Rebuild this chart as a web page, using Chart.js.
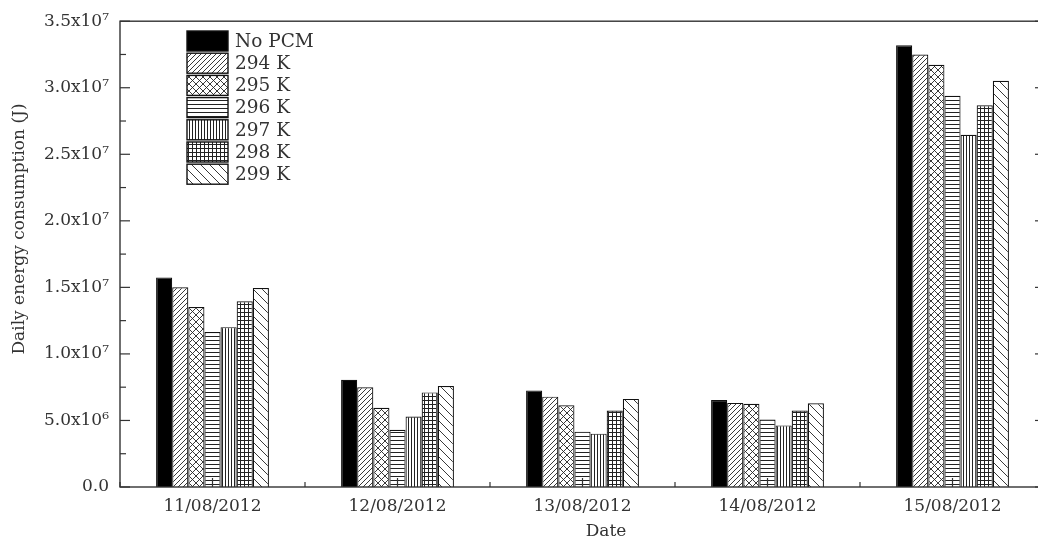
<!DOCTYPE html>
<html><head><meta charset="utf-8">
<script src="https://cdn.jsdelivr.net/npm/chart.js@4/dist/chart.umd.min.js"></script>
<style>
html,body{margin:0;padding:0;overflow:hidden;background:#fff}
#wrap{width:1060px;height:545px}
</style>
</head><body><div id="wrap"><canvas id="c" width="1060" height="545"></canvas></div>
<script>
const categories = ['11/08/2012','12/08/2012','13/08/2012','14/08/2012','15/08/2012'];
const seriesNames = ['No PCM','294 K','295 K','296 K','297 K','298 K','299 K'];
const noPCM = [15750000, 8060000, 7260000, 6540000, 33190000];
const k294  = [15000000, 7490000, 6790000, 6320000, 32490000];
const k295  = [13530000, 5950000, 6140000, 6250000, 31720000];
const k296  = [11640000, 4300000, 4160000, 5070000, 29400000];
const k297  = [12010000, 5300000, 4010000, 4630000, 26470000];
const k298  = [13960000, 7110000, 5750000, 5750000, 28690000];
const k299  = [14950000, 7590000, 6620000, 6290000, 30520000];
const yTickLabels = ['0.0','5.0x10\u2076','1.0x10\u2077','1.5x10\u2077','2.0x10\u2077','2.5x10\u2077','3.0x10\u2077','3.5x10\u2077'];
const xTitle = 'Date';
const yTitle = 'Daily energy consumption (J)';

const seriesValues = [noPCM,k294,k295,k296,k297,k298,k299];
const patternKinds = ['solid','diag','cross','horiz','vert','grid','back'];
const FONT = '"DejaVu Serif", serif';
const TXT = '#333';

function makePattern(kind){
  if (kind === 'solid') return '#000';
  const sizes = {diag:5, back:9, cross:7, horiz:4, vert:3, grid:4};
  const s = sizes[kind];
  const c = document.createElement('canvas');
  c.width = s; c.height = s;
  const g = c.getContext('2d');
  g.fillStyle = '#fff'; g.fillRect(0,0,s,s);
  g.strokeStyle = '#222'; g.fillStyle = '#222'; g.lineWidth = 0.9;
  const fwd = () => { g.beginPath(); g.moveTo(0,s); g.lineTo(s,0); g.moveTo(-1,1); g.lineTo(1,-1); g.moveTo(s-1,s+1); g.lineTo(s+1,s-1); g.stroke(); };
  const bwd = () => { g.beginPath(); g.moveTo(0,0); g.lineTo(s,s); g.moveTo(-1,s-1); g.lineTo(1,s+1); g.moveTo(s-1,-1); g.lineTo(s+1,1); g.stroke(); };
  if (kind === 'diag') fwd();
  if (kind === 'back') bwd();
  if (kind === 'cross') { fwd(); bwd(); }
  if (kind === 'horiz') g.fillRect(0,0,s,1);
  if (kind === 'vert') g.fillRect(0,0,1,s);
  if (kind === 'grid') { g.fillRect(0,0,s,1); g.fillRect(0,0,1,s); }
  return g.createPattern(c, 'repeat');
}
const fills = patternKinds.map(makePattern);

const decor = {
  id: 'decor',
  afterDraw(chart){
    const {ctx, chartArea: a, scales: {x, y}} = chart;
    ctx.save();
    const line = (x1,y1,x2,y2) => { ctx.beginPath(); ctx.moveTo(x1,y1); ctx.lineTo(x2,y2); ctx.stroke(); };
    ctx.strokeStyle = '#333'; ctx.lineWidth = 1.4;
    ctx.strokeRect(a.left, a.top, a.right - a.left, a.bottom - a.top);
    ctx.lineWidth = 1.2;
    const step = 5000000;
    for (let k = 0; k <= Math.round(y.max / step * 2); k++) {
      const py = y.getPixelForValue(k * step / 2);
      const L = (k % 2 === 0) ? 10 : 6;
      line(a.left, py, a.left + L, py);
      line(a.right, py, a.right - L, py);
    }
    categories.forEach((c, i) => { const px = x.getPixelForValue(i); line(px, a.bottom, px, a.bottom - 9); });
    for (let i = 0; i <= categories.length; i++) { const px = x.getPixelForValue(i - 0.5); line(px, a.bottom, px, a.bottom - 5); }
    // legend
    const lx = 187, ly = 31, bw = 41, bh = 20, pitch = 22.2;
    ctx.font = '18.5px ' + FONT; ctx.textBaseline = 'middle'; ctx.textAlign = 'left';
    chart.data.datasets.forEach((ds, i) => {
      const yy = ly + i * pitch;
      ctx.fillStyle = ds.backgroundColor; ctx.fillRect(lx, yy, bw, bh);
      ctx.strokeStyle = '#111'; ctx.lineWidth = 1.4; ctx.strokeRect(lx, yy, bw, bh);
      ctx.fillStyle = TXT; ctx.fillText(ds.label, lx + bw + 7, yy + bh / 2 + 1);
    });
    // axis titles
    ctx.font = '17px ' + FONT; ctx.fillStyle = TXT; ctx.textAlign = 'center'; ctx.textBaseline = 'middle';
    ctx.fillText(xTitle, 606, 532);
    ctx.translate(20, 229); ctx.rotate(-Math.PI / 2); ctx.fillText(yTitle, 0, 0);
    ctx.restore();
  }
};

new Chart(document.getElementById('c'), {
  type: 'bar',
  data: {
    labels: categories,
    datasets: seriesNames.map((n, i) => ({
      label: n, data: seriesValues[i], backgroundColor: fills[i],
      borderColor: '#111', borderWidth: 1.2,
      categoryPercentage: 0.61, barPercentage: 1.0
    }))
  },
  options: {
    responsive: false, animation: false, devicePixelRatio: 1,
    layout: {padding: {top: 17, right: 15, left: 0, bottom: 0}},
    plugins: {legend: {display: false}, tooltip: {enabled: false}},
    scales: {
      x: {
        offset: true,
        grid: {display: false, drawTicks: false},
        border: {display: false},
        ticks: {font: {family: FONT, size: 17}, color: TXT, padding: 9, maxRotation: 0},
        afterFit(s){ s.height = 58; }
      },
      y: {
        min: 0, max: 35000000,
        grid: {display: false, drawTicks: false},
        border: {display: false},
        ticks: {stepSize: 5000000, font: {family: FONT, size: 17}, color: TXT, padding: 11,
          callback: (v) => yTickLabels[Math.round(v / 5000000)]},
        afterFit(s){ s.width = 120; }
      }
    }
  },
  plugins: [decor]
});
</script>
</body></html>
